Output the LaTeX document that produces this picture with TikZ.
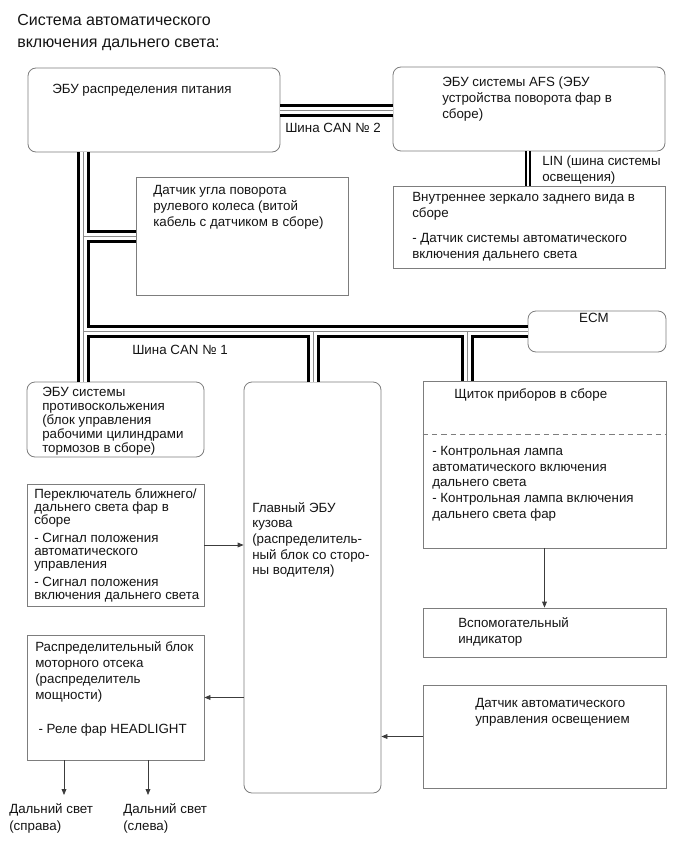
\documentclass[tikz,border=0pt]{standalone}
\usepackage{fontspec}
\setmainfont{Liberation Sans}
\usetikzlibrary{arrows.meta,fit,calc}
\definecolor{frame}{RGB}{125,125,125}
\definecolor{wire}{RGB}{60,60,60}
\definecolor{ink}{RGB}{20,20,20}
\tikzset{
  >={Triangle[length=4.5pt,width=3.6pt]},
  sqbox/.style={draw=frame,line width=0.6pt,inner sep=0pt},
  rbox/.style={sqbox,rounded corners=6pt},
  txt/.style={anchor=north west,inner sep=0pt,align=left,text=ink,
    font=\fontsize{10}{#1}\selectfont},
  txt/.default=12pt,
  arr/.style={->,draw=wire,line width=0.6pt},
  % bus layers
  busouter/.style={draw=black,line width=9.75pt},
  businner/.style={draw=white,line width=5.25pt},
  buscore/.style={draw=black!45,line width=0.5pt},
  linouter/.style={draw=black,line width=4.5pt},
  lininner/.style={draw=white,line width=1.1pt},
}
\newcommand\busnet[1]{%
  \draw[#1] (pdu.east) -- (pdu.east -| afs.west);
  \draw[#1] (pdu.south -| jA) -- (abs.north -| jA);
  \draw[#1] (jA) -- (jA -| steer.west);
  \draw[#1] (jB) -- (jB -| ecm.west);
  \draw[#1] (jC) -- (jC |- body.north);
  \draw[#1] (jD) -- (jD |- cluster.north);
}
\begin{document}
\begin{tikzpicture}[x=0.75pt,y=-0.75pt]
  \useasboundingbox (0,0) rectangle (690,853);
  \node[txt,font=\fontsize{12}{16.5}\selectfont] (title) at (17,14) {Система автоматического\\включения дальнего света:};

  % boxes
  \node[rbox,fit={(28,68) (280,152)}] (pdu) {};
  \node[rbox,fit={(393,67) (665,151)}] (afs) {};
  \node[sqbox,fit={(393,186) (665,268)}] (mirror) {};
  \node[sqbox,fit={(136,177) (348,295)}] (steer) {};
  \node[rbox,fit={(528,311) (666,352)}] (ecm) {};
  \node[rbox,fit={(27,382) (204,457)}] (abs) {};
  \node[rbox,fit={(244,382) (381,793)}] (body) {};
  \node[sqbox,fit={(27,484) (204,606)}] (sw) {};
  \node[sqbox,fit={(423,381) (666,548)}] (cluster) {};
  \node[sqbox,fit={(423,608) (666,657)}] (aux) {};
  \node[sqbox,fit={(423,685) (666,788)}] (sensor) {};
  \node[sqbox,fit={(27,635) (204,760)}] (relay) {};

  % texts
  \node[txt] (pdutxt) at (52,84) {ЭБУ распределения питания};
  \node[txt] (afstxt) at (442,77) {ЭБУ системы AFS (ЭБУ\\устройства поворота фар в\\сборе)};
  \node[txt] (can2) at (285,123) {Шина CAN № 2};
  \node[txt] (lin) at (542,156) {LIN (шина системы\\освещения)};
  \node[txt] (mirrortxt) at (412,192) {Внутреннее зеркало заднего вида в\\сборе\\[6.75pt]- Датчик системы автоматического\\включения дальнего света};
  \node[txt] (steertxt) at (153,185) {Датчик угла поворота\\рулевого колеса (витой\\кабель с датчиком в сборе)};
  \node[txt,anchor=north] (ecmtxt) at (594,313) {ECM};
  \node[txt] (can1) at (132,345) {Шина CAN № 1};
  \node[txt=10.5pt] (abstxt) at (42,387) {ЭБУ системы\\противоскольжения\\(блок управления\\рабочими цилиндрами\\тормозов в сборе)};
  \node[txt=11.75pt] (bodytxt) at (252,502) {Главный ЭБУ\\кузова\\(распределитель-\\ный блок со сторо-\\ны водителя)};
  \node[txt=9.75pt] (swtxt) at (34,488) {Переключатель ближнего/\\дальнего света фар в\\сборе\\[3.75pt]- Сигнал положения\\автоматического\\управления\\[3.75pt]- Сигнал положения\\включения дальнего света};
  \node[txt] (clustertop) at (454,388) {Щиток приборов в сборе};
  \node[txt=11.8pt] (clustertxt) at (432,446) {- Контрольная лампа\\автоматического включения\\дальнего света\\- Контрольная лампа включения\\дальнего света фар};
  \node[txt] (auxtxt) at (458,617) {Вспомогательный\\индикатор};
  \node[txt] (sensortxt) at (475,698) {Датчик автоматического\\управления освещением};
  \node[txt] (relaytxt) at (35,641) {Распределительный блок\\моторного отсека\\(распределитель\\мощности)\\[13.5pt]\hspace*{2.5pt}- Реле фар HEADLIGHT};
  \node[txt=12.75pt] (beamR) at (9,803) {Дальний свет\\(справа)};
  \node[txt=12.75pt] (beamL) at (123,803) {Дальний свет\\(слева)};

  \draw[frame,line width=0.6pt,dash pattern=on 4pt off 3pt]
    ($(cluster.north west)+(0,54)$) -- ($(cluster.north east)+(0,54)$);

  % buses
  \coordinate (jA) at (83,236);
  \coordinate (jB) at (83,331);
  \coordinate (jC) at (313,331);
  \coordinate (jD) at (467,331);
  \coordinate (jL) at (528,160);
  \busnet{busouter}
  \busnet{businner}
  \busnet{buscore}
  \draw[linouter] (afs.south -| jL) -- (mirror.north -| jL);
  \draw[lininner] (afs.south -| jL) -- (mirror.north -| jL);

  % signals
  \draw[arr] (sw.east) -- (sw.east -| body.west);
  \draw[arr] (cluster.south) -- (aux.north);
  \draw[arr] (sensor.west) -- (sensor.west -| body.east);
  \draw[arr] (relay.east -| body.west) -- (relay.east);
  \coordinate (tipR) at (64,795);
  \coordinate (tipL) at (148,795);
  \draw[arr] (relay.south -| tipR) -- (tipR);
  \draw[arr] (relay.south -| tipL) -- (tipL);
\end{tikzpicture}
\end{document}
